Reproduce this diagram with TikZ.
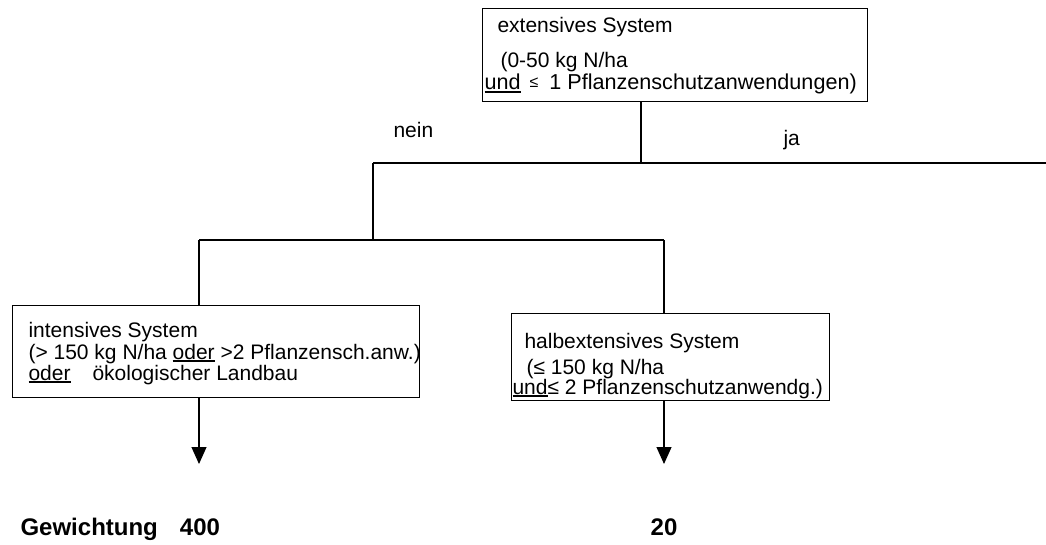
\documentclass[tikz,border=0pt]{standalone}
\usepackage{fontspec}
\setmainfont{Liberation Sans}
\usetikzlibrary{arrows.meta}
% heavy underline used for the logical connectives
\newcommand\ulin[1]{\setbox0=\hbox{#1}\rlap{\rule[-3pt]{\wd0}{1.8pt}}\box0\relax}
\begin{document}
\begin{tikzpicture}[x=1pt,y=-1pt,line width=1.1pt,
  box/.style={draw,rectangle,inner sep=0pt,anchor=north west},
  txt/.style={anchor=base west,inner sep=0pt,font=\fontsize{21}{25}\selectfont},
  res/.style={anchor=base,inner sep=0pt,font=\fontsize{24}{28}\selectfont\bfseries},
  arr/.style={-{Triangle[length=17pt,width=15pt]}}]
\useasboundingbox (0,0) rectangle (1046,545);

% decision boxes
\node[box,minimum width=385pt,minimum height=93pt] (ext) at (482,8) {};
\node[box,minimum width=407pt,minimum height=92pt] (int) at (12,305) {};
\node[box,minimum width=318pt,minimum height=87pt] (halb) at (511,313) {};

% box texts
\node[txt] (ext1) at (497,33) {extensives System};
\node[txt] (ext2) at (500,68) {(0-50 kg N/ha};
\node[txt,font=\fontsize{21.6}{25}\selectfont] (ext3) at (484,90) {\ulin{und}\hspace{9pt}{\fontsize{16}{16}\selectfont\raisebox{2pt}{≤}}\hspace{11pt}1 Pflanzenschutzanwendungen)};

\node[txt] (int1) at (28,337) {intensives System};
\node[txt] (int2) at (28,359) {(> 150 kg N/ha \ulin{oder} >2 Pflanzensch.anw.)};
\node[txt] (int3) at (28,380) {\ulin{oder}\hspace{22pt}ökologischer Landbau};

\node[txt] (halb1) at (524,348) {halbextensives System};
\node[txt] (halb2) at (526,374) {(≤ 150 kg N/ha};
\node[txt] (halb3) at (512,394) {\ulin{und}≤ 2 Pflanzenschutzanwendg.)};

% branch labels
\node[txt] (nein) at (393,138) {nein};
\node[txt] (ja) at (783,146) {ja};

% junction points of the tree
\coordinate (hubTop) at (641,163);
\coordinate (neinL) at (373,163);
\coordinate (jaR) at (1046,163);
\coordinate (hubMid) at (373,240);
\coordinate (brL) at (199,240);
\coordinate (brR) at (664,240);
\coordinate (endL) at (199,464);
\coordinate (endR) at (664,464);

\draw (ext.south -| hubTop) -- (hubTop);
\draw (neinL) -- (jaR);
\draw (neinL) -- (hubMid);
\draw (brL) -- (brR);
\draw (brL) -- (brL |- int.north);
\draw (brR) -- (brR |- halb.north);
\draw[arr] (int.south -| endL) -- (endL);
\draw[arr] (halb.south -| endR) -- (endR);

% weights
\node[res,anchor=base west] (gew) at (20,535) {Gewichtung};
\node[res] (w400) at (200,535) {400};
\node[res] (w20) at (664,535) {20};
\end{tikzpicture}
\end{document}
